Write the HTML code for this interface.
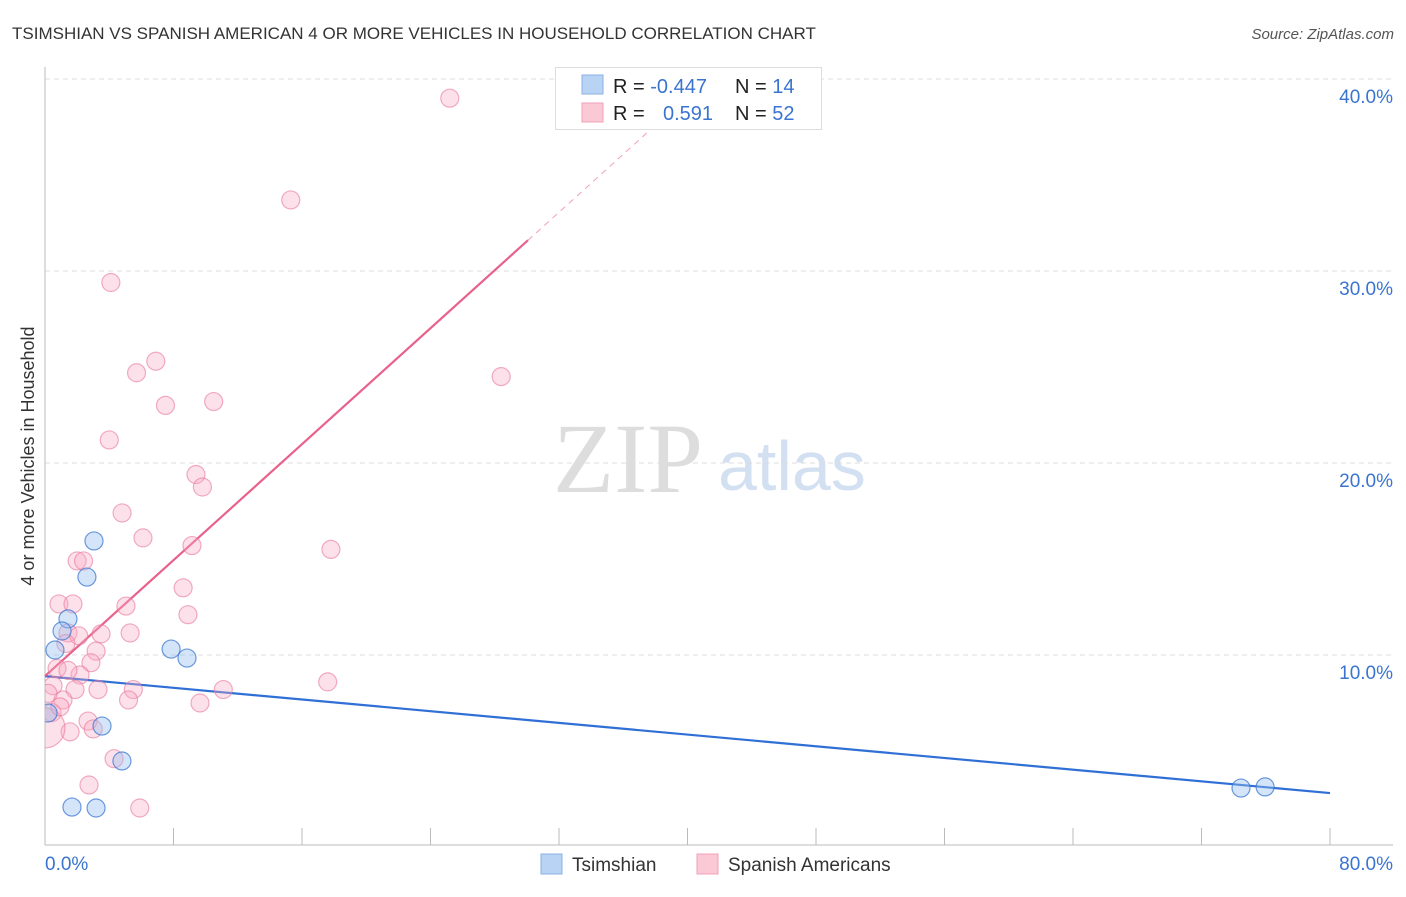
<!DOCTYPE html>
<html><head><meta charset="utf-8"><style>
body{margin:0;background:#fff;font-family:"Liberation Sans",sans-serif}
svg text{font-family:"Liberation Sans",sans-serif}
svg text.serif{font-family:"Liberation Serif",serif}
</style></head><body>
<svg id="chart" width="1406" height="892" xmlns="http://www.w3.org/2000/svg">
<defs><clipPath id="plotclip"><rect x="45" y="60" width="1360" height="785"/></clipPath></defs>
<text x="12" y="39" font-size="17" fill="#333">TSIMSHIAN VS SPANISH AMERICAN 4 OR MORE VEHICLES IN HOUSEHOLD CORRELATION CHART</text>
<text x="1394" y="39" font-size="15" fill="#555" font-style="italic" text-anchor="end">Source: ZipAtlas.com</text>
<text x="34" y="456" font-size="18" fill="#333" text-anchor="middle" transform="rotate(-90 34 456)">4 or more Vehicles in Household</text>
<g><text class="serif" x="553" y="492" font-size="100" fill="#ddd">ZIP</text><text x="718" y="490" font-size="70" fill="#d3e0f2">atlas</text></g>
<g id="grid"></g><g id="axes"></g><g id="lines"></g><g id="points" clip-path="url(#plotclip)"></g>
<g>
<rect x="555.5" y="67.5" width="266" height="62" fill="#fff" stroke="#ddd"/>
<rect x="582" y="75" width="21" height="19" fill="#b9d3f5" stroke="#8ab0e6"/>
<rect x="582" y="103" width="21" height="19" fill="#fbc8d6" stroke="#f0a0b8"/>
<text x="613" y="93" font-size="20" fill="#222">R = <tspan fill="#3a74d0">-0.447</tspan></text>
<text x="735" y="93" font-size="20" fill="#222">N = <tspan fill="#3a74d0"> 14</tspan></text>
<text x="613" y="120" font-size="20" fill="#222">R = <tspan fill="#3a74d0" x="663">0.591</tspan></text>
<text x="735" y="120" font-size="20" fill="#222">N = <tspan fill="#3a74d0">52</tspan></text>
</g>
<g>
<rect x="541" y="854" width="21" height="20" fill="#b9d3f5" stroke="#8ab0e6"/>
<text x="572" y="871" font-size="19" fill="#333">Tsimshian</text>
<rect x="697" y="854" width="21" height="20" fill="#fbc8d6" stroke="#f0a0b8"/>
<text x="728" y="871" font-size="19" fill="#333">Spanish Americans</text>
</g>
</svg>
<script>
const blueX=[3.05,2.61,1.43,1.06,0.62,7.85,8.84,3.55,4.79,0.19,1.68,3.18,74.46,75.96];
const blueY=[15.94,14.06,11.88,11.25,10.26,10.31,9.84,6.30,4.48,6.98,2.08,2.03,3.07,3.13];
const pinkX=[25.2,15.3,4.1,6.9,5.7,7.5,10.5,4.0,9.4,9.8,4.8,6.1,9.15,2.0,2.4,17.8,8.6,0.87,1.74,5.04,8.9,1.43,3.49,5.3,2.1,3.18,1.3,0.75,2.86,2.18,1.43,0.5,1.87,3.3,5.5,11.1,17.6,1.12,5.2,9.65,0.19,0.44,2.68,3.0,1.56,0,4.3,2.74,5.9,28.4,0.93];
const pinkY=[39.0,33.7,29.4,25.3,24.7,23.0,23.2,21.2,19.4,18.75,17.4,16.1,15.7,14.9,14.9,15.5,13.5,12.66,12.66,12.55,12.1,11.15,11.1,11.15,11.0,10.2,10.6,9.3,9.6,8.96,9.2,8.4,8.2,8.2,8.2,8.2,8.6,7.66,7.66,7.5,8.0,7.0,6.56,6.15,6.0,6.2,4.6,3.23,2.03,24.5,7.3];
const yTicks=[10,20,30,40];
const xTickLabels=["0.0%","80.0%"];
const blueTrend=[8.9,2.81];
const pinkTrend=[8.9,0.755];
const NS="http://www.w3.org/2000/svg";
const X=v=>45+v/80*1285, Y=v=>847-v*19.2;
function mk(tag,attrs,parent){const e=document.createElementNS(NS,tag);for(const k in attrs)e.setAttribute(k,attrs[k]);parent.appendChild(e);return e;}
const grid=document.getElementById('grid'),axes=document.getElementById('axes'),lines=document.getElementById('lines'),pts=document.getElementById('points');
yTicks.forEach(t=>{
 const l=mk('line',{x1:45,x2:1393,y1:Y(t),y2:Y(t),stroke:'#ddd','stroke-dasharray':'5,4'},grid);
 
 
 const tx=mk('text',{x:1393,y:Y(t)+24,'font-size':19,fill:'#3a74d0','text-anchor':'end'},axes);
 tx.textContent=t.toFixed(1)+'%';
 
 
});
const ax=mk('line',{x1:45,x2:1393,y1:845,y2:845,stroke:'#bbb'},axes);


const ay=mk('line',{x1:45,x2:45,y1:67,y2:845,stroke:'#bbb'},axes);


for(let i=0;i<=10;i++){const t=mk('line',{x1:X(i*8),x2:X(i*8),y1:828,y2:845,stroke:'#bbb'},axes);
 
 }
const xl0=mk('text',{x:45,y:870,'font-size':19,fill:'#3a74d0'},axes);xl0.textContent=xTickLabels[0];


const xl1=mk('text',{x:1393,y:870,'font-size':19,fill:'#3a74d0','text-anchor':'end'},axes);xl1.textContent=xTickLabels[1];


function dot(x,y,fill,stroke,name,r){const c=mk('circle',{cx:X(x),cy:Y(y),r:r||9,fill:fill,stroke:stroke,'stroke-width':1.2},pts);
 
 }
pinkX.forEach((x,i)=>dot(x,pinkY[i],'rgba(248,170,195,0.35)','rgba(232,120,155,0.6)','spanish-point',x===0?20:9));
blueX.forEach((x,i)=>dot(x,blueY[i],'rgba(150,190,240,0.4)','rgba(60,120,210,0.75)','tsimshian-point'));
const bl=mk('line',{x1:X(0),y1:Y(blueTrend[0]),x2:X(80),y2:Y(blueTrend[1]),stroke:'#2f6fd6','stroke-width':2.2},lines);


const pl=mk('line',{x1:X(0),y1:Y(pinkTrend[0]),x2:X(30.07),y2:Y(pinkTrend[0]+pinkTrend[1]*30.07),stroke:'#e8628c','stroke-width':2.2},lines);


const pd=mk('line',{x1:X(30.07),y1:Y(pinkTrend[0]+pinkTrend[1]*30.07),x2:X(40),y2:Y(pinkTrend[0]+pinkTrend[1]*40),stroke:'#f0a0b8','stroke-width':1,'stroke-dasharray':'6,5'},lines);


</script>
</body></html>
